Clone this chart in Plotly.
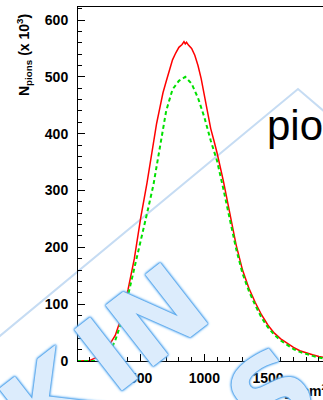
import plotly.graph_objects as go

# Pion number distribution vs. slant depth, two simulation variants
depth_solid = [0, 50, 100, 150, 200, 250, 300, 350, 400, 450, 500, 550, 600, 625, 650, 675,
               700, 725, 750, 775, 800, 825, 840, 850, 860, 875, 900, 925, 950, 975, 1000,
               1025, 1050, 1075, 1100, 1150, 1200, 1250, 1300, 1350, 1400, 1450, 1500, 1550,
               1600, 1650, 1700, 1750, 1800, 1850, 1900, 1950]
npions_solid = [0, 0, 1, 6, 15, 27, 45, 78, 125, 180, 252, 314, 386, 418, 445, 472,
                492, 512, 530, 542, 552, 557, 562, 558, 561, 556, 550, 538, 520, 497, 466,
                438, 409, 388, 366, 316, 262, 204, 160, 128, 103, 81, 63, 49,
                39, 31, 24, 18, 14, 11, 8, 6]

depth_dashed = [0, 50, 100, 150, 200, 250, 300, 350, 400, 450, 500, 550, 600, 650, 700, 750,
                800, 850, 900, 950, 1000, 1050, 1100, 1150, 1200, 1250, 1300, 1350, 1400, 1450,
                1500, 1550, 1600, 1650, 1700, 1750, 1800, 1850, 1900, 1950]
npions_dashed = [0, 0, 0, 0, 3, 13, 36, 70, 115, 162, 214, 260, 310, 374, 440, 478,
                 493, 500, 488, 463, 429, 388, 352, 302, 250, 197, 154, 123, 98, 76,
                 59, 46, 36, 28, 21, 16, 12, 9, 6, 4]

y_ticks = [0, 100, 200, 300, 400, 500, 600]
x_ticks = [500, 1000, 1500]

W, H = 323, 400
ML, MR, MT, MB = 78, 0, 7, 39
PW, PH = W - ML - MR, H - MT - MB


def px(x):
    return (x - ML) / PW


def py(y):
    return (H - MB - y) / PH


fig = go.Figure()
fig.add_trace(go.Scatter(x=depth_solid, y=npions_solid, mode="lines",
                         line=dict(color="#ff0000", width=1.5), showlegend=False))
fig.add_trace(go.Scatter(x=depth_dashed, y=npions_dashed, mode="lines",
                         line=dict(color="#00e000", width=2, dash="4px,3px"),
                         showlegend=False))

tick_font = dict(family="Liberation Sans, Arial, sans-serif", size=14, color="black",
                 weight="bold")

fig.update_layout(
    width=W, height=H,
    margin=dict(l=ML, r=MR, t=MT, b=MB, pad=0),
    paper_bgcolor="white",
    plot_bgcolor="rgba(0,0,0,0)",
    showlegend=False,
    xaxis=dict(range=[7.5, 1932], showgrid=False, zeroline=False,
               showline=True, linecolor="black", linewidth=1, mirror=True,
               ticks="inside", ticklen=7, tickcolor="black", tickwidth=1,
               tickvals=x_ticks, ticktext=[str(v) for v in x_ticks],
               tickfont=tick_font, ticklabelstandoff=4,
               minor=dict(ticks="inside", ticklen=4, dtick=100, tick0=0,
                          tickcolor="black", showgrid=False)),
    yaxis=dict(range=[0, 623], showgrid=False, zeroline=False,
               showline=True, linecolor="black", linewidth=1, mirror=False,
               ticks="inside", ticklen=7, tickcolor="black", tickwidth=1,
               tickvals=y_ticks, ticktext=[str(v) for v in y_ticks],
               tickfont=tick_font, ticklabelstandoff=6,
               minor=dict(ticks="inside", ticklen=4, dtick=20, tick0=0,
                          tickcolor="black", showgrid=False)),
)

# Axis titles, ROOT style (aligned to the axis ends)
fig.add_annotation(text="<b>N<sub>pions</sub> (x 10<sup>3</sup>)</b>",
                   xref="paper", yref="paper", x=px(24), y=py(12),
                   xanchor="center", yanchor="top", textangle=-90, showarrow=False,
                   font=dict(family="Liberation Sans, Arial, sans-serif", size=14,
                             color="black"))
fig.add_annotation(text="<b>X [g/cm<sup>2</sup>]</b>",
                   xref="paper", yref="paper", x=px(269), y=py(390),
                   xanchor="left", yanchor="middle", showarrow=False,
                   font=dict(family="Liberation Sans, Arial, sans-serif", size=14,
                             color="black"))

# Legend header
fig.add_annotation(text="pions", xref="paper", yref="paper", x=px(265), y=py(125),
                   xanchor="left", yanchor="middle", showarrow=False,
                   font=dict(family="Liberation Sans, Arial, sans-serif", size=42,
                             color="black"))

# Thin light-blue chevron stroke
fig.add_shape(type="path", xref="paper", yref="paper", layer="below",
              path=f"M {px(-5)} {py(340)} L {px(298)} {py(89)} L {px(360)} {py(142)}",
              line=dict(color="#c6dcf3", width=2))

# Big outlined light-blue lettering
glow = ("0 0 1px #4a9fea, 0 0 1px #4a9fea, 0 0 1.5px #4a9fea, 0 0 2px #5aa9ee, "
        "0 0 2.5px #6ab3f1, 0 0 3px #6ab3f1, 0 0 4px #8cc4f4")
letter_font = dict(family="DejaVu Sans, sans-serif", size=106, color="#dcecfc",
                   weight="bold", shadow=glow)
for txt, cx, cy in [("K", 50, 400), ("IN", 142, 328), ("S", 272, 394)]:
    fig.add_annotation(text=txt, xref="paper", yref="paper", x=px(cx), y=py(cy),
                       xanchor="center", yanchor="middle", textangle=-38,
                       showarrow=False, font=letter_font)

fig.write_html("out.html")
